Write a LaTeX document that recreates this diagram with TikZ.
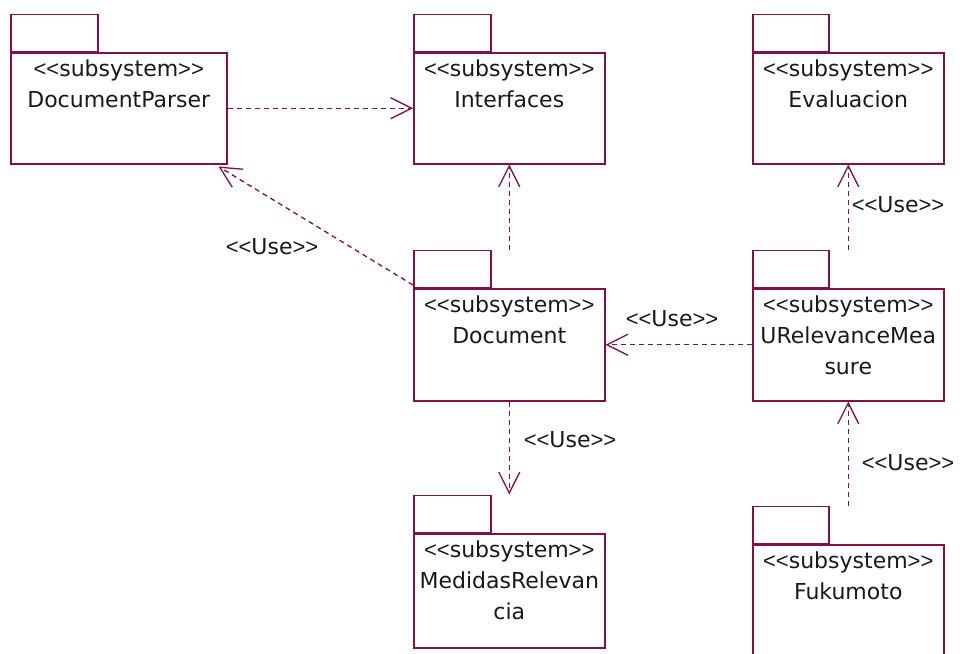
\documentclass[tikz,border=0pt]{standalone}
\usepackage{fontspec}
\setmainfont{DejaVu Sans}
\newfontfamily\brk{Liberation Sans}
\usetikzlibrary{arrows.meta,calc}
\definecolor{umlline}{RGB}{128,16,72}
\definecolor{umltext}{RGB}{25,25,25}

\tikzset{
  pkgbody/.style={draw=umlline, line width=1.5pt, fill=white, rectangle, inner sep=0pt},
  pkgtab/.style={draw=umlline, line width=1.5pt, fill=white, rectangle, inner sep=0pt, minimum height=37pt},
  pkgtext/.style={text=umltext, inner sep=0pt, align=center, anchor=north,
    font=\fontsize{22}{31}\selectfont},
  uselabel/.style={text=umltext, inner sep=0pt, font=\fontsize{22}{31}\selectfont},
  usedep/.style={draw=umlline, line width=1.3pt, dash pattern=on 5pt off 4pt,
    -{Straight Barb[length=21pt,width=21pt,line width=1.3pt]}}
}

% stereotype brackets: narrower < and > glyphs, kept apart so they stay two signs
\newcommand{\lsign}{{\brk <\kern0pt<}}
\newcommand{\rsign}{{\brk >\kern0pt>}}
\newcommand{\st}{\lsign subsystem\rsign}
\newcommand{\usetxt}{\lsign Use\rsign}

% \umlpkg{name}{left}{body top}{width}{height}{tab width}{text}
\newcommand{\umlpkg}[7]{%
  \node[pkgtab, minimum width=#6pt, anchor=south west] (#1-tab) at (#2,#3) {};
  \node[pkgbody, minimum width=#4pt, minimum height=#5pt, anchor=north west] (#1) at (#2,#3) {};
  \node[pkgtext] (#1-text) at ($(#1.north)+(0,8)$) {#7};
}

\begin{document}
\begin{tikzpicture}[x=1pt,y=-1pt]
\useasboundingbox (0,0) rectangle (960,653);
\fill[white] (0,0) rectangle (960,653);
\clip (0,0) rectangle (960,653);

% packages
\umlpkg{dp}{10}{52}{216}{111}{87}{\st\\DocumentParser}
\umlpkg{if}{413}{52}{191}{111}{77}{\st\\Interfaces}
\umlpkg{ev}{752}{52}{191}{111}{76}{\st\\Evaluacion}
\umlpkg{doc}{413}{288}{191}{112}{77}{\st\\Document}
\umlpkg{urm}{752}{288}{191}{112}{76}{\st\\URelevanceMea\\sure}
\umlpkg{med}{413}{533}{191}{114}{77}{\st\\MedidasRelevan\\cia}
\umlpkg{fuku}{752}{544}{191}{130}{76}{\st\\Fukumoto}

% dependencies
\coordinate (dp-in) at ($(dp.south east)+(-9,2)$);
\coordinate (doc-out) at ($(doc.north west)+(0,-3)$);

\draw[usedep] (dp.east) -- (dp.east -| if.west);
\draw[usedep] (if.south |- doc-tab.north) -- (if.south);
\draw[usedep] (doc-out) -- (dp-in);
\draw[usedep] (urm.west) -- (doc.east);
\draw[usedep] (ev.south |- urm-tab.north) -- (ev.south);
\draw[usedep] (doc.south) -- (doc.south |- med-tab.north);
\draw[usedep] (urm.south |- fuku-tab.north) -- (urm.south);

% labels
\node[uselabel] (u1) at (272,247) {\usetxt};
\node[uselabel] (u2) at (672,319) {\usetxt};
\node[uselabel] (u3) at (898,205) {\usetxt};
\node[uselabel] (u4) at (570,440) {\usetxt};
\node[uselabel] (u5) at (908,463) {\usetxt};
\end{tikzpicture}
\end{document}
